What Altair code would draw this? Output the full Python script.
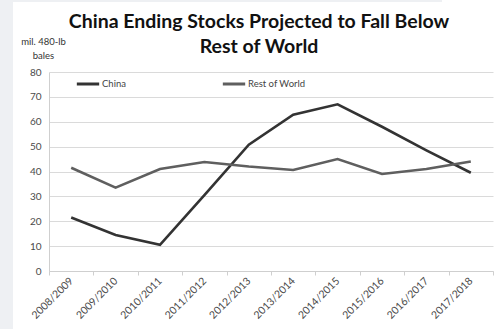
import altair as alt
import pandas as pd

# Marketing years on the category axis
years = ["2008/2009", "2009/2010", "2010/2011", "2011/2012", "2012/2013",
         "2013/2014", "2014/2015", "2015/2016", "2016/2017", "2017/2018"]

# Ending stocks, million 480-lb bales
china = [21.5, 14.5, 10.5, 30.5, 50.8, 62.8, 67.0, 58.0, 48.5, 39.5]
rest_of_world = [41.5, 33.5, 41.0, 43.8, 42.0, 40.6, 45.0, 39.0, 41.0, 44.0]

series_names = ["China", "Rest of World"]
series_colors = ["#333333", "#5f5f5f"]

title_lines = ["China Ending Stocks Projected to Fall Below", "Rest of World"]

rows = []
for name, values in zip(series_names, [china, rest_of_world]):
    for yr, v in zip(years, values):
        rows.append({"year": yr, "stocks": v, "series": name})
df = pd.DataFrame(rows)

FONT = "Lato"
one = pd.DataFrame({"k": [0]})

# Grey page edges around the white card
page_left = alt.Chart(one).mark_rect(color="#eef0f3").encode(
    x=alt.value(-49), x2=alt.value(-36), y=alt.value(-72), y2=alt.value(257)
)
page_top = alt.Chart(one).mark_rect(color="#eef0f3").encode(
    x=alt.value(-36), x2=alt.value(393), y=alt.value(-72), y2=alt.value(-70)
)

title_style = dict(font=FONT, fontSize=19.5, fontWeight="bold",
                   color="#111111", align="center", baseline="alphabetic")
title_1 = alt.Chart(one).mark_text(text=title_lines[0], **title_style).encode(
    x=alt.value(210), y=alt.value(-44))
title_2 = alt.Chart(one).mark_text(text=title_lines[1], **title_style).encode(
    x=alt.value(210), y=alt.value(-19))

lines = alt.Chart(df).mark_line(strokeWidth=2.6, strokeCap="butt").encode(
    x=alt.X("year:N", sort=years,
            scale=alt.Scale(paddingInner=0, paddingOuter=0),
            axis=alt.Axis(title=None, labelAngle=-45, labelAlign="right",
                          labelBaseline="middle", labelPadding=4,
                          labelFontSize=10.5, labelColor="#4a4a4a",
                          labelFont=FONT, tickBand="extent", tickSize=4,
                          tickColor="#cfcfcf", domainColor="#cfcfcf",
                          grid=False)),
    y=alt.Y("stocks:Q", scale=alt.Scale(domain=[0, 80], nice=False),
            axis=alt.Axis(values=list(range(0, 81, 10)),
                          title=["mil. 480-lb", "bales"], titleAngle=0,
                          titleAlign="center", titleBaseline="alphabetic",
                          titleX=-6, titleY=-28, titleFontSize=9.5,
                          titleFontWeight="normal", titleColor="#333333",
                          titleFont=FONT, titleLineHeight=14,
                          labelFontSize=10, labelColor="#4a4a4a",
                          labelFont=FONT, labelPadding=8, ticks=False,
                          gridColor="#dadada", domainColor="#cfcfcf")),
    color=alt.Color("series:N",
                    scale=alt.Scale(domain=series_names, range=series_colors),
                    legend=alt.Legend(title=None, orient="none",
                                      legendX=26, legendY=-1,
                                      direction="horizontal",
                                      symbolType="stroke", symbolSize=500,
                                      symbolStrokeWidth=3,
                                      labelFontSize=9.5, labelFont=FONT,
                                      labelColor="#444444", labelOffset=1,
                                      columnPadding=90)),
)

chart = alt.layer(page_left, page_top, title_1, title_2, lines).properties(
    width=444, height=199,
    background="white",
    padding={"left": 49, "top": 72, "right": 5, "bottom": 58},
    autosize=alt.AutoSizeParams(type="none"),
).configure_view(stroke=None)

chart.save("out.html", embed_options={"renderer": "svg", "actions": False})
